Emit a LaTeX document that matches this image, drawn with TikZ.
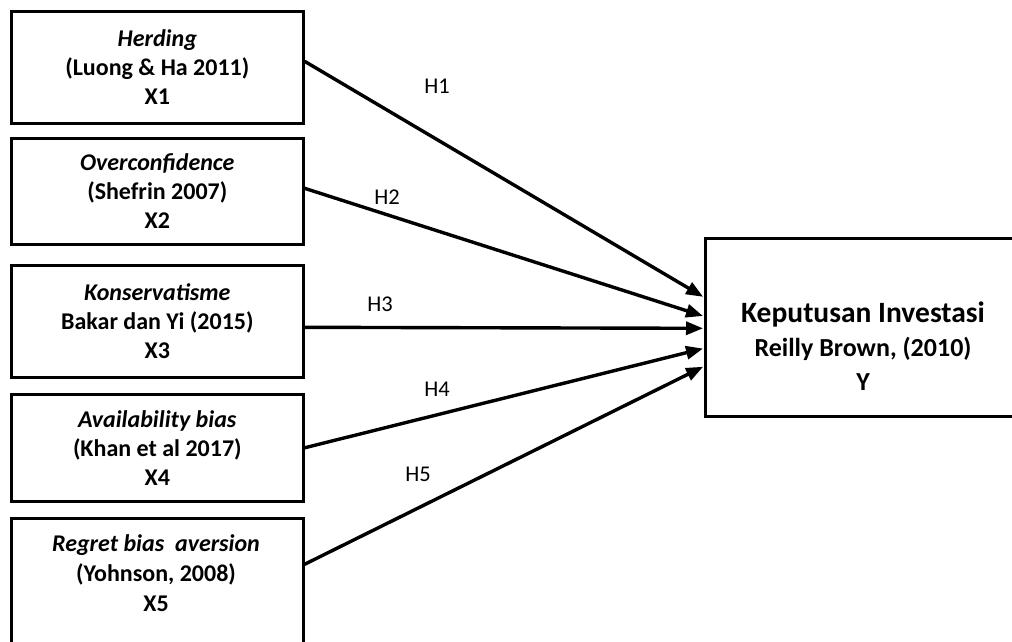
\documentclass[tikz,border=0pt]{standalone}
\usepackage{fontspec}
\setmainfont{Carlito}
\usetikzlibrary{arrows.meta,calc}
\begin{document}
\begin{tikzpicture}[x=1pt,y=-1pt,
  varbox/.style={draw=black,line width=2.6pt,rectangle,inner sep=0pt,
    minimum width=292pt,anchor=north west,align=center,
    font=\bfseries\fontsize{24}{29}\selectfont},
  boxtext/.style={align=center,inner sep=0pt,font=\bfseries\fontsize{24}{30}\selectfont},
  hlab/.style={inner sep=0pt,font=\fontsize{22.5}{26}\selectfont},
  link/.style={line width=3.4pt,-{Triangle[length=17pt,width=13pt]},shorten >=1pt}]
\useasboundingbox (0,0) rectangle (1012,641);
\clip (0,0) rectangle (1012,641);
\node[varbox,minimum height=112pt] (b1) at (10,10) {\textit{Herding}\\(Luong \& Ha 2011)\\X1};
\node[varbox,minimum height=106pt] (b2) at (10,137) {\textit{Overconfidence}\\(Shefrin 2007)\\X2};
\node[varbox,minimum height=112pt] (b3) at (10,264) {\textit{Konservatisme}\\Bakar dan Yi (2015)\\X3};
\node[varbox,minimum height=107pt] (b4) at (10,393) {\textit{Availability bias}\\(Khan et al 2017)\\X4};
\node[varbox,minimum height=140pt] (b5) at (10,517) {};
\node[boxtext] (t5) at (156,573) {\textit{Regret bias\ \ aversion}\\(Yohnson, 2008)\\X5};
\node[draw=black,line width=2.6pt,rectangle,inner sep=0pt,minimum width=318pt,
  minimum height=178pt,anchor=north west] (y) at (704,237) {};
\node[inner sep=0pt,align=center,font=\bfseries\fontsize{26}{34}\selectfont] (ty) at (863,346)
  {{\fontsize{29.5}{34}\selectfont Keputusan Investasi}\\
   Reilly Brown, (2010)\\
   Y};
\draw[link] ($(b1.east)+(0,-6)$) -- ($(y.west)+(0,-30)$);
\draw[link] ($(b2.east)+(0,-3)$) -- ($(y.west)+(0,-11)$);
\draw[link] ($(b3.east)+(0,6)$) -- ($(y.west)+(0,1)$);
\draw[link] ($(b4.east)+(0,0)$) -- ($(y.west)+(0,21)$);
\draw[link] ($(b5.east)+(0,-24)$) -- ($(y.west)+(0,39)$);
\node[hlab] (h1) at (437,86) {H1};
\node[hlab] (h2) at (387,197) {H2};
\node[hlab] (h3) at (380,304) {H3};
\node[hlab] (h4) at (437,389) {H4};
\node[hlab] (h5) at (418,474) {H5};
\end{tikzpicture}
\end{document}
